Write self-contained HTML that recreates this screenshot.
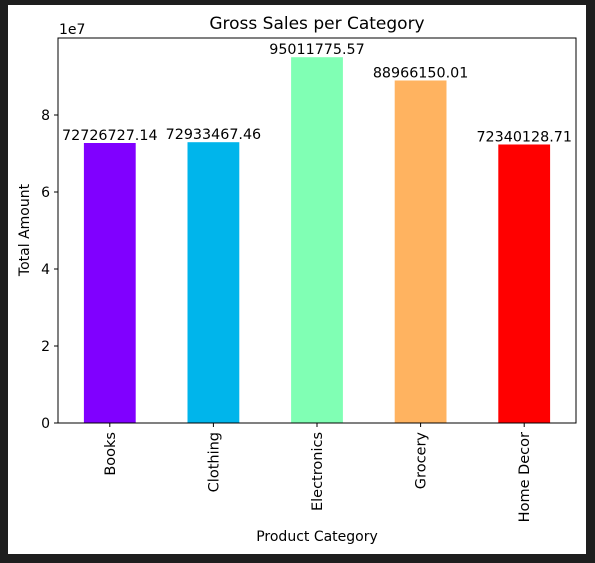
<!DOCTYPE html>
<html><head><meta charset="utf-8"><style>
html,body{margin:0;padding:0;background:#1e1e1e;width:595px;height:563px;overflow:hidden}
svg{display:block;font-family:"DejaVu Sans","Liberation Sans",sans-serif}
</style></head><body>
<svg id="chart" width="595" height="563">
<rect x="8" y="5" width="578" height="549" fill="#fff"/>
<text x="317" y="29" font-size="17" text-anchor="middle" fill="#000">Gross Sales per Category</text>
<text x="59" y="34" font-size="14" fill="#000">1e7</text>
<text transform="translate(29,230) rotate(-90)" font-size="14" text-anchor="middle" fill="#000">Total Amount</text>
<text x="317" y="541" font-size="14" text-anchor="middle" fill="#000">Product Category</text>
<g id="marks"></g>
<rect x="58" y="38" width="518" height="385" fill="none" stroke="#000" stroke-width="1"/>
</svg>
<script>
const categories = ["Books","Clothing","Electronics","Grocery","Home Decor"];
const values = [72726727.14,72933467.46,95011775.57,88966150.01,72340128.71];
const valueLabels = ["72726727.14","72933467.46","95011775.57","88966150.01","72340128.71"];
const colors = ["#8000ff","#00b5eb","#80ffb4","#ffb360","#ff0000"];
const yTicks = [0,2,4,6,8];
const L=58,R=576,T=38,B=423;
const x = i => L + (i+0.5)*(R-L)/categories.length;
const y = v => B - v/2e7*77;
const bw = 0.5*(R-L)/categories.length;
const ns="http://www.w3.org/2000/svg";
const g=document.getElementById('marks');
function mk(tag,attrs,txt){const e=document.createElementNS(ns,tag);for(const k in attrs)e.setAttribute(k,attrs[k]);if(txt!==undefined)e.textContent=txt;g.appendChild(e);return e;}
yTicks.forEach(t=>{
  const yy=y(t*1e7);
  const tk=mk('line',{x1:L-4,x2:L,y1:yy,y2:yy,stroke:'#000'});
  
  
  const lb=mk('text',{x:L-8,y:yy+5,'font-size':14,'text-anchor':'end'},String(t));
  
  
});
categories.forEach((c,i)=>{
  const cx=x(i);
  const b=mk('rect',{x:cx-bw/2,y:y(values[i]),width:bw,height:B-y(values[i]),fill:colors[i]});
  
  
  const vl=mk('text',{x:cx,y:y(values[i])-3,'font-size':14.3,'text-anchor':'middle'},valueLabels[i]);
  
  
  const tk=mk('line',{x1:cx,x2:cx,y1:B,y2:B+4,stroke:'#000'});
  
  
  const lb=mk('text',{transform:`translate(${cx+5},${B+9}) rotate(-90)`,'font-size':14.5,'text-anchor':'end'},c);
  
  
});
</script>
</body></html>
